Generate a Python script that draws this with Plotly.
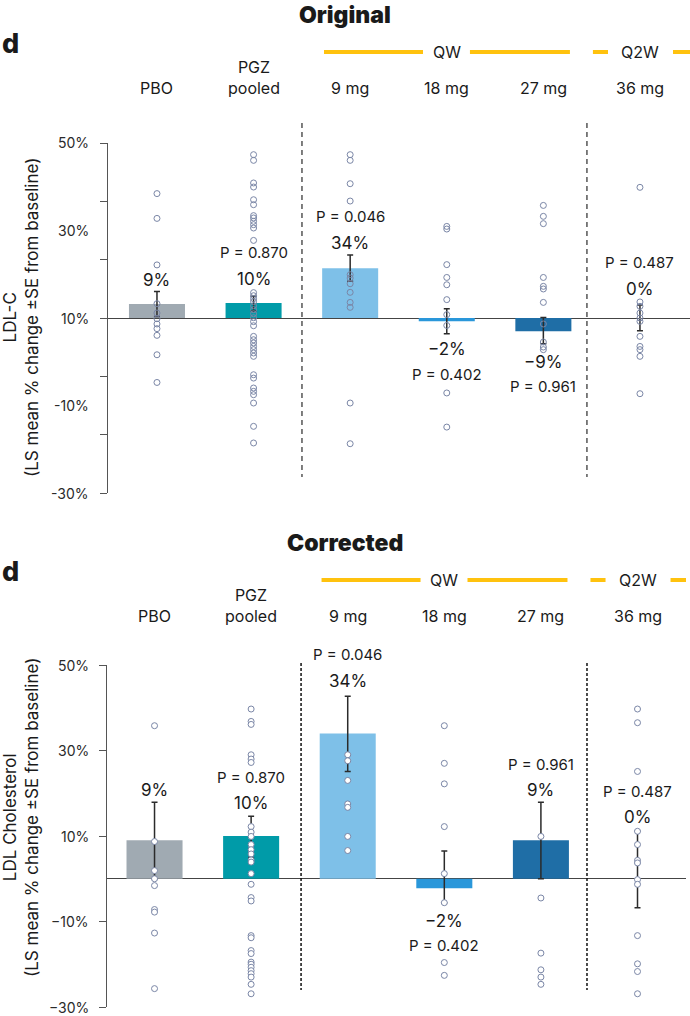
import plotly.graph_objects as go

# ---------------- data ----------------
categories = ["PBO", "PGZ pooled", "9 mg", "18 mg", "27 mg", "36 mg"]
category_labels = ["PBO", "PGZ<br>pooled", "9 mg", "18 mg", "27 mg", "36 mg"]
bar_colors = ["#A0AAB2", "#009BA8", "#7EC0E8", "#2A97DA", "#1F6EA6", "#1F6EA6"]

# Original panel
orig_mean = [9.6, 10.3, 34.2, -2.2, -9.1, 0]
orig_se_up = [8.5, 4.7, 9.0, 8.6, 9.4, 9.0]
orig_se_down = [8.5, 5.5, 9.0, 8.6, 8.5, 8.7]
orig_mean_text = ["9%", "10%", "34%", "\u22122%", "\u22129%", "0%"]
orig_p_text = ["", "P = 0.870", "P = 0.046", "P = 0.402", "P = 0.961", "P = 0.487"]
orig_pts_pbo = [85.3, 68.3, 36.4, 9.8, 3.4, -0.5, -4.1, -7.3, -11.9, -25.2, -44.2]
orig_pts_pgz = [112, 108.1, 92.6, 89.8, 81.1, 77.7, 70.2, 68.6, 66.3, 64.0, 61.7, 53.2,
                17.4, 15.3, 13.2, 11.2, 8.4, 5.7, 2.9, 0.2, -2.5, -5.3, -12.6, -14.9,
                -17.1, -19.5, -21.7, -24.0, -26.3, -38.9, -41.2, -48.0, -50.3, -52.6,
                -58.3, -74.3, -85.7]
orig_pts_9 = [112, 108.1, 92.1, 80.2, 29.7, 27.4, 23.5, 17.6, 10.7, 7.3, -58.3, -86.2]
orig_pts_18 = [62.8, 61.0, 36.6, 27.8, 22.8, 12.6, 2.3, -5.1, -51.4, -74.8]
orig_pts_27 = [77.2, 69.7, 64.7, 27.8, 21.7, 19.9, 10.7, -4.1, -16.5, -19.9, -21.7]
orig_pts_36 = [89.6, 11.0, 8.0, 3.4, 0.0, -2.3, -12.6, -19.5, -21.7, -26.3, -51.9]
orig_tick_vals = [-120, -80, -40, 0, 40, 80, 120]
orig_label_vals = [120, 60, 0, -60, -120]
orig_label_text = ["50%", "30%", "10%", "-10%", "-30%"]

# Corrected panel
corr_mean = [9.0, 10.0, 34.0, -2.2, 9.0, 0.0]
corr_se_up = [8.9, 4.6, 8.7, 8.7, 8.9, 11.1]
corr_se_down = [9.0, 5.0, 8.9, 3.4, 9.0, 6.8]
corr_mean_text = ["9%", "10%", "34%", "\u22122%", "9%", "0%"]
corr_p_text = ["", "P = 0.870", "P = 0.046", "P = 0.402", "P = 0.961", "P = 0.487"]
corr_pts_pbo = [35.8, 8.7, 1.9, 0.0, -1.6, -7.2, -7.8, -12.7, -25.7]
corr_pts_pgz = [39.7, 36.8, 36.1, 29.0, 28.0, 27.2, 12.2, 10.9, 9.9, 8.0, 6.8, 5.8, 4.4,
                3.9, 1.2, -1.3, -4.4, -5.2, -13.3, -13.8, -16.8, -17.5, -19.5, -20.0,
                -20.7, -21.5, -22.2, -23.0, -24.7, -26.9]
corr_pts_9 = [29.0, 27.6, 23.0, 17.5, 16.7, 9.9, 6.6]
corr_pts_18 = [35.8, 27.0, 22.2, 12.2, 1.2, -5.6, -19.6, -22.6]
corr_pts_27 = [9.9, -4.5, -17.4, -21.3, -23.0, -24.7]
corr_pts_36 = [39.7, 36.5, 25.1, 11.1, 8.0, 4.3, 3.7, -0.2, -1.3, -13.3, -19.9, -21.7, -26.9]
corr_tick_vals = [-30, -10, 10, 30, 50]
corr_label_text = ["\u221230%", "\u221210%", "10%", "30%", "50%"]

# ---------------- styling / layout helpers ----------------
W, H = 690, 1016
FONT = "Inter, Roboto, 'Open Sans', sans-serif"
TXT = "#1a1a1a"
AX = "#555555"
PT = "#7A86A6"
YEL = "#FFC20E"


def py(px):
    return 1 - px / H


def px_x(px):
    return px / W


fig = go.Figure()

panels = [
    dict(xa="x", ya="y", mean=orig_mean, up=orig_se_up, dn=orig_se_down,
         pts=[orig_pts_pbo, orig_pts_pgz, orig_pts_9, orig_pts_18, orig_pts_27, orig_pts_36],
         fill="rgba(0,0,0,0)"),
    dict(xa="x2", ya="y2", mean=corr_mean, up=corr_se_up, dn=corr_se_down,
         pts=[corr_pts_pbo, corr_pts_pgz, corr_pts_9, corr_pts_18, corr_pts_27, corr_pts_36],
         fill="white"),
]

for p in panels:
    fig.add_trace(go.Bar(
        x=categories, y=p["mean"], width=0.58,
        marker=dict(color=bar_colors, line=dict(width=0)),
        error_y=dict(type="data", symmetric=False, array=p["up"], arrayminus=p["dn"],
                     color="#2b2b2b", thickness=1.5, width=3),
        xaxis=p["xa"], yaxis=p["ya"], showlegend=False, hoverinfo="skip"))
    xs, ys = [], []
    for c, vals in zip(categories, p["pts"]):
        xs += [c] * len(vals)
        ys += vals
    fig.add_trace(go.Scatter(
        x=xs, y=ys, mode="markers",
        marker=dict(size=6, color=p["fill"], line=dict(color=PT, width=1)),
        xaxis=p["xa"], yaxis=p["ya"], showlegend=False, hoverinfo="skip"))

ann = []
shapes = []


def add_text(text, x, y, size, xref="paper", yref="paper", xanchor="center",
             yanchor="middle", yshift=0, weight=None, angle=0, color=TXT):
    f = dict(family=FONT, size=size, color=color)
    if weight:
        f["weight"] = weight
    ann.append(dict(text=text, x=x, y=y, xref=xref, yref=yref, xanchor=xanchor,
                    yanchor=yanchor, yshift=yshift, showarrow=False, font=f,
                    textangle=angle))


# shift of value labels (px) from error-bar end
orig_shift = [(12, 38), (17, 44), (12, 38), (-15, -41), (-18, -43), (16, 42)]
corr_shift = [(12, 38), (13, 39), (15, 42), (-18, -43), (12, 38), (14, 40)]

panel_cfg = [
    dict(top=0, xa="x", ya="y", mean=orig_mean, up=orig_se_up, dn=orig_se_down,
         mt=orig_mean_text, pt=orig_p_text, sh=orig_shift, title="Original",
         ylab="LDL-C<br>(LS mean % change \u00b1SE from baseline)", ylab_y=318,
         lab_vals=orig_label_vals, lab_text=orig_label_text,
         dash=dict(color="#555555", dash="5px,4px"), dash_x=[1.501, 4.451],
         dash_y=(123, 477)),
    dict(top=528, xa="x2", ya="y2", mean=corr_mean, up=corr_se_up, dn=corr_se_down,
         mt=corr_mean_text, pt=corr_p_text, sh=corr_shift, title="Corrected",
         ylab="LDL Cholesterol<br>(LS mean % change \u00b1SE from baseline)", ylab_y=818,
         lab_vals=corr_tick_vals, lab_text=corr_label_text,
         dash=dict(color="#111111", dash="3px,2px"), dash_x=[1.517, 4.477],
         dash_y=(663, 990)),
]

for c in panel_cfg:
    t = c["top"]
    add_text(c["title"], 0.5, py(15 + t), 23, weight=900)
    add_text("d", 0.0, py(43 + t), 27, xanchor="left", weight=800)
    # category labels
    for cat, lab in zip(categories, category_labels):
        add_text(lab, cat, py(100 + t), 16, xref=c["xa"], yanchor="bottom")
    # dosing brackets
    add_text("QW", "18 mg", py(52 + t), 16, xref=c["xa"])
    add_text("Q2W", "36 mg", py(52 + t), 16, xref=c["xa"])
    for x0, x1 in [(1.729, 2.754), (3.24, 4.275), (4.513, 4.669), (5.342, 5.52)]:
        shapes.append(dict(type="line", xref=c["xa"], yref="paper", x0=x0, x1=x1,
                           y0=py(52 + t), y1=py(52 + t), line=dict(color=YEL, width=4)))
    # separators
    for xv in c["dash_x"]:
        shapes.append(dict(type="line", xref=c["xa"], yref="paper", x0=xv, x1=xv,
                           y0=py(c["dash_y"][0]), y1=py(c["dash_y"][1]),
                           line=dict(color=c["dash"]["color"], width=1.5,
                                     dash=c["dash"]["dash"])))
    # y tick labels
    for v, s in zip(c["lab_vals"], c["lab_text"]):
        add_text(s, px_x(91), v, 14, yref=c["ya"], xanchor="right", color="#2a2a2a")
    # y title
    add_text(c["ylab"], px_x(21), py(c["ylab_y"]), 17, angle=-90)
    # value labels
    for i, cat in enumerate(categories):
        m = c["mean"][i]
        s1, s2 = c["sh"][i]
        yend = m + c["up"][i] if s1 > 0 else m - c["dn"][i]
        add_text(c["mt"][i], cat, yend, 17, xref=c["xa"], yref=c["ya"], yshift=s1)
        if c["pt"][i]:
            add_text(c["pt"][i], cat, yend, 15, xref=c["xa"], yref=c["ya"], yshift=s2)

xcommon = dict(type="category", showgrid=False, zeroline=False, showline=False,
               showticklabels=False, ticks="", fixedrange=True)
ycommon = dict(showgrid=False, showline=True, linecolor=AX, linewidth=1, ticks="outside",
               ticklen=7, tickcolor=AX, tickwidth=1, showticklabels=False, zeroline=True,
               zerolinecolor="#444444", zerolinewidth=1.2, fixedrange=True)

fig.update_layout(
    width=W, height=H, margin=dict(l=0, r=0, t=0, b=0),
    paper_bgcolor="white", plot_bgcolor="rgba(0,0,0,0)",
    barmode="overlay",
    xaxis=dict(domain=[px_x(108), 1], range=[-0.507, 5.518], anchor="y", **xcommon),
    yaxis=dict(domain=[py(493), py(143)], range=[-120, 120], anchor="x",
               tickmode="array", tickvals=orig_tick_vals, **ycommon),
    xaxis2=dict(domain=[px_x(107), px_x(686)], range=[-0.492, 5.502], anchor="y2", **xcommon),
    yaxis2=dict(domain=[py(1007), py(665)], range=[-30, 50], anchor="x2",
                tickmode="array", tickvals=corr_tick_vals, **ycommon),
    annotations=ann, shapes=shapes,
    font=dict(family=FONT, color=TXT),
)

fig.write_html("out.html")
